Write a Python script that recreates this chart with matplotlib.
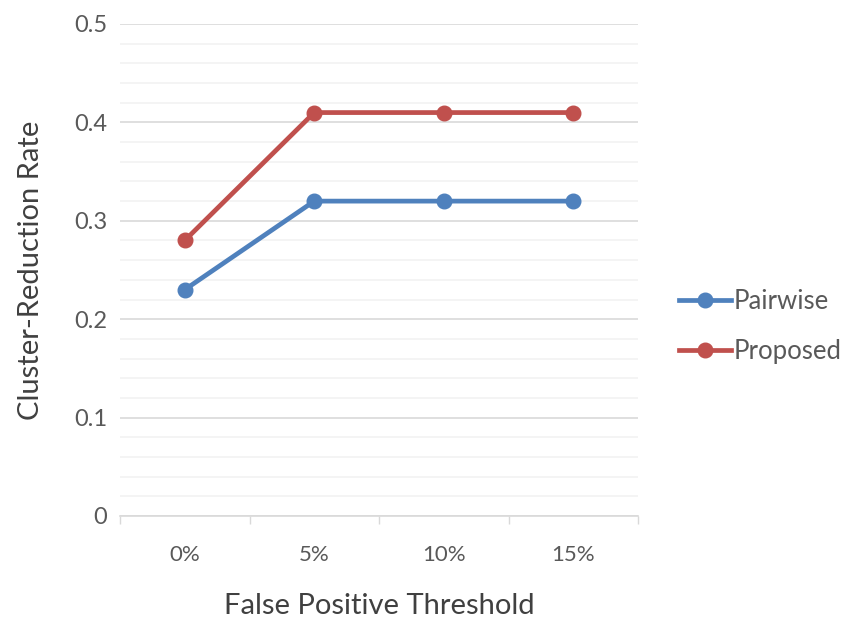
import numpy as np
import matplotlib.pyplot as plt
from matplotlib.ticker import MultipleLocator

plt.rcParams['font.family'] = ['Lato', 'DejaVu Sans']

# thresholds and cluster-reduction rates
thresholds = ['0%', '5%', '10%', '15%']
pairwise = [0.23, 0.32, 0.32, 0.32]
proposed = [0.28, 0.41, 0.41, 0.41]

fig = plt.figure(figsize=(8.52, 6.21), dpi=100)
ax = fig.add_axes([120 / 852, 1 - 516 / 621, 518 / 852, 492 / 621])

x = np.arange(len(thresholds))
ax.plot(x, pairwise, color='#4f81bd', lw=3.4, marker='o', ms=10.5, label='Pairwise', zorder=3)
ax.plot(x, proposed, color='#c0504d', lw=3.4, marker='o', ms=10.5, label='Proposed', zorder=3)

ax.set_xlim(-0.5, len(thresholds) - 0.5)
ax.set_ylim(0, 0.5)

# category labels centred, ticks on the boundaries
ax.set_xticks(x)
ax.set_xticklabels(thresholds)
ax.set_xticks(np.arange(-0.5, len(thresholds)), minor=True)
ax.tick_params(axis='x', which='major', length=0, pad=21, labelsize=16, colors='#595959')
ax.tick_params(axis='x', which='minor', length=6, width=1, color='#d9d9d9')

ax.yaxis.set_minor_locator(MultipleLocator(0.02))
ax.set_yticks([0, 0.1, 0.2, 0.3, 0.4, 0.5])
ax.set_yticklabels(['0', '0.1', '0.2', '0.3', '0.4', '0.5'])
ax.tick_params(axis='y', which='both', length=0, pad=9, labelsize=17, colors='#595959')

ax.grid(axis='y', which='major', color='#d9d9d9', lw=1.2)
ax.grid(axis='y', which='minor', color='#f2f2f2', lw=1.2)
ax.set_axisbelow(True)

for s in ['top', 'right', 'left']:
    ax.spines[s].set_visible(False)
ax.spines['bottom'].set_color('#d9d9d9')
ax.spines['bottom'].set_linewidth(1.2)

ax.set_xlabel('False Positive Threshold', fontsize=21, color='#404040', labelpad=20)
ax.set_ylabel('Cluster-Reduction Rate', fontsize=21, color='#404040', labelpad=22)

ax.legend(loc='center left', bbox_to_anchor=(1.08, 0.385), frameon=False,
          borderaxespad=0, borderpad=0,
          fontsize=18.5, labelcolor='#595959', handlelength=2.0, handletextpad=0.1,
          labelspacing=1.0)

fig.savefig('out.png', dpi=100)
